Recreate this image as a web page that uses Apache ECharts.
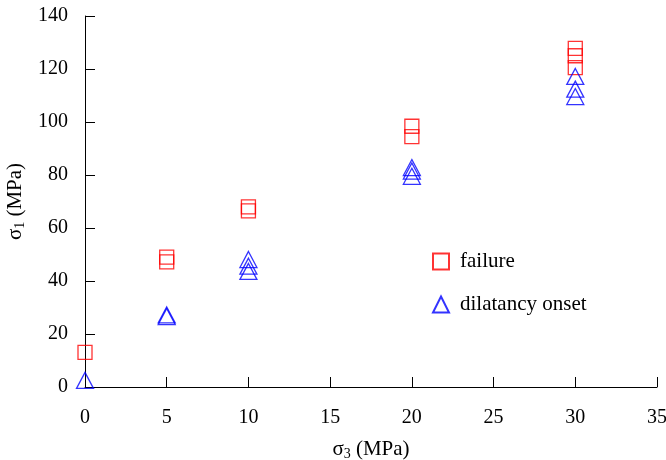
<!DOCTYPE html>
<html>
<head>
<meta charset="utf-8">
<script src="https://cdn.jsdelivr.net/npm/echarts@6/dist/echarts.min.js"></script>
<style>
  html, body { margin: 0; padding: 0; background: #fff; }
  #chart { width: 666px; height: 460px; }
</style>
</head>
<body>
<div id="chart"></div>
<script>
// Confining pressure sigma3 (MPa) and axial stress sigma1 (MPa)
const failureX = [0, 5, 5, 10, 10, 20, 20, 30, 30, 30];
const failureY = [13.1, 49, 47.2, 68, 66.5, 98.4, 94.5, 127.8, 125, 120.5];
const onsetX = [0, 5, 5, 10, 10, 10, 20, 20, 20, 30, 30, 30];
const onsetY = [2.5, 27.2, 26.6, 48.1, 45.6, 43.6, 82.8, 81.5, 79.5, 117.2, 112.4, 109.6];
const xTicks = [0, 5, 10, 15, 20, 25, 30, 35];
const yTicks = [0, 20, 40, 60, 80, 100, 120, 140];

const FONT = '"Liberation Serif", "DejaVu Serif", serif';

const pairs = (xs, ys) => xs.map((x, i) => [x, ys[i]]);

const chart = echarts.init(document.getElementById('chart'), null, { renderer: 'canvas' });

const axisCommon = {
  axisLine: { show: true, lineStyle: { color: '#000', width: 1 } },
  axisTick: { show: true, inside: true, length: 10, lineStyle: { color: '#000', width: 1 } },
  splitLine: { show: false },
  axisLabel: { color: '#000', fontFamily: FONT, fontSize: 20 },
  nameTextStyle: {
    color: '#000', fontFamily: FONT, fontSize: 21,
    rich: {
      s: { fontFamily: FONT, fontSize: 21, color: '#000' },
      sub: { fontFamily: FONT, fontSize: 14, color: '#000', verticalAlign: 'bottom', padding: [9, 0, 0, 0] }
    }
  }
};

chart.setOption({
  backgroundColor: '#fff',
  animation: false,
  grid: { left: 85, right: 9, top: 16, bottom: 73, containLabel: false, outerBoundsMode: 'none' },
  xAxis: Object.assign({}, axisCommon, {
    type: 'value',
    min: xTicks[0], max: xTicks[xTicks.length - 1], interval: 5,
    name: '{s|σ}{sub|3}{s| (MPa)}',
    nameLocation: 'middle', nameGap: 51,
    axisLabel: Object.assign({}, axisCommon.axisLabel, { margin: 21 })
  }),
  yAxis: Object.assign({}, axisCommon, {
    type: 'value',
    min: yTicks[0], max: yTicks[yTicks.length - 1], interval: 20,
    name: '{s|σ}{sub|1}{s| (MPa)}',
    nameLocation: 'middle', nameGap: 46, nameRotate: 90,
    axisLabel: Object.assign({}, axisCommon.axisLabel, { margin: 17 })
  }),
  legend: {
    orient: 'vertical',
    left: 432, top: 251,
    padding: 0,
    itemGap: 22,
    itemWidth: 16, itemHeight: 16,
    textStyle: { color: '#000', fontFamily: FONT, fontSize: 21, padding: [0, 0, 0, 6] },
    data: ['failure', 'dilatancy onset']
  },
  series: [
    {
      name: 'failure', type: 'scatter',
      symbol: 'rect', symbolSize: 14,
      itemStyle: { color: 'rgba(0,0,0,0)', borderColor: '#ff0000', borderWidth: 1.3 },
      data: pairs(failureX, failureY),
      z: 3
    },
    {
      name: 'dilatancy onset', type: 'scatter',
      symbol: 'triangle', symbolSize: [17, 16],
      itemStyle: { color: 'rgba(0,0,0,0)', borderColor: '#0000ff', borderWidth: 1.3 },
      data: pairs(onsetX, onsetY),
      z: 4
    }
  ]
});
</script>
</body>
</html>
